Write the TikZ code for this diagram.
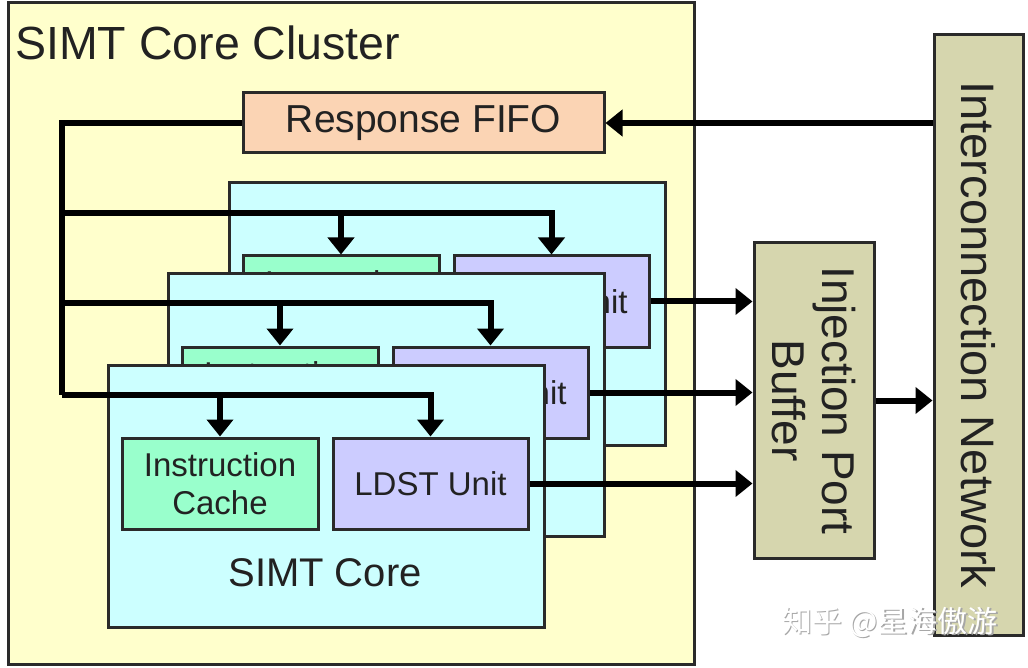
\documentclass[tikz,border=0pt]{standalone}
\usepackage{fontspec}
\setmainfont{Liberation Sans}
\newfontfamily\cjk{Noto Sans CJK SC}
\usetikzlibrary{arrows.meta}
\definecolor{clusterfill}{HTML}{FFFFCC}
\definecolor{corefill}{HTML}{CCFFFF}
\definecolor{icfill}{HTML}{99FFCC}
\definecolor{ldstfill}{HTML}{CCCCFF}
\definecolor{fifofill}{HTML}{FBD4B4}
\definecolor{netfill}{HTML}{D6D6AE}
\definecolor{edge}{HTML}{2A2A2A}
\definecolor{txt}{HTML}{222222}
\tikzset{
  blk/.style={draw=edge, line width=3pt, inner sep=0pt, text=txt, align=center},
  bus/.style={line width=6pt, draw=black},
  busarrow/.style={bus, -{Triangle[length=17pt,width=26pt]}},
}
\begin{document}
\begin{tikzpicture}[x=1pt,y=-1pt]
\useasboundingbox (0,0) rectangle (1028,668);
\fill[white] (0,0) rectangle (1028,668);
% cluster
\node[blk, fill=clusterfill, minimum width=686pt, minimum height=661pt] (cluster) at (351,333.5) {};
\node[anchor=west, text=txt, font=\fontsize{46.5}{52}\selectfont, inner sep=0pt] (title) at (15,43) {SIMT Core Cluster};
% response fifo
\node[blk, fill=fifofill, minimum width=361pt, minimum height=60pt, font=\fontsize{39}{44}\selectfont] (fifo) at (423.5,123) {Response FIFO};
% interconnection network
\node[blk, fill=netfill, minimum width=89pt, minimum height=600pt] (net) at (978.5,335) {};
\node[rotate=-90, text=txt, font=\fontsize{47}{52}\selectfont, inner sep=0pt] (netlabel) at (net.center) {Interconnection Network};
% injection port buffer
\node[blk, fill=netfill, minimum width=120pt, minimum height=315pt] (ipb) at (814,400.5) {};
\node[rotate=-90, text=txt, align=center, font=\fontsize{46}{50}\selectfont, inner sep=0pt] (ipblabel) at (ipb.center) {Injection Port\\Buffer};
% arrows network
\draw[busarrow] (net.west |- fifo.east) -- (fifo.east);
\draw[busarrow] (ipb.east) -- (ipb.east -| net.west);
% vertical bus
\coordinate (b1) at (62,213);
\coordinate (b2) at (62,303);
\coordinate (b3) at (62,395);
\draw[bus] (fifo.west) -| (b3);
% cores
\foreach \i/\cx/\cy in {1/447/314, 2/386/405, 3/326/496}{
  \node[blk, fill=corefill, minimum width=436pt, minimum height=262pt] (core\i) at (\cx,\cy) {};
  \node[blk, fill=icfill, minimum width=196pt, minimum height=91pt, font=\fontsize{33}{38}\selectfont] (ic\i) at ([xshift=-106pt,yshift=12.5pt]core\i.center) {Instruction\\Cache};
  \node[blk, fill=ldstfill, minimum width=195pt, minimum height=91pt, font=\fontsize{33}{38}\selectfont] (ldst\i) at ([xshift=104.5pt,yshift=12.5pt]core\i.center) {LDST Unit};
  \draw[busarrow] (b\i) -| (ic\i.north);
  \draw[busarrow] (b\i) -| (ldst\i.north);
  \draw[busarrow] (ldst\i.east) -- (ldst\i.east -| ipb.west);
}
\node[text=txt, font=\fontsize{40}{44}\selectfont, inner sep=0pt] (corelabel) at ([xshift=-1pt,yshift=-77pt]core3.center) {SIMT Core};
% watermark
\node[text=gray!70, font=\cjk\fontsize{30}{34}\selectfont, inner sep=0pt] (wmshadow) at (891.5,623.5) {知乎 @星海傲游};
\node[text=white, font=\cjk\fontsize{30}{34}\selectfont, inner sep=0pt] (wm) at (890,622) {知乎 @星海傲游};
\end{tikzpicture}
\end{document}
